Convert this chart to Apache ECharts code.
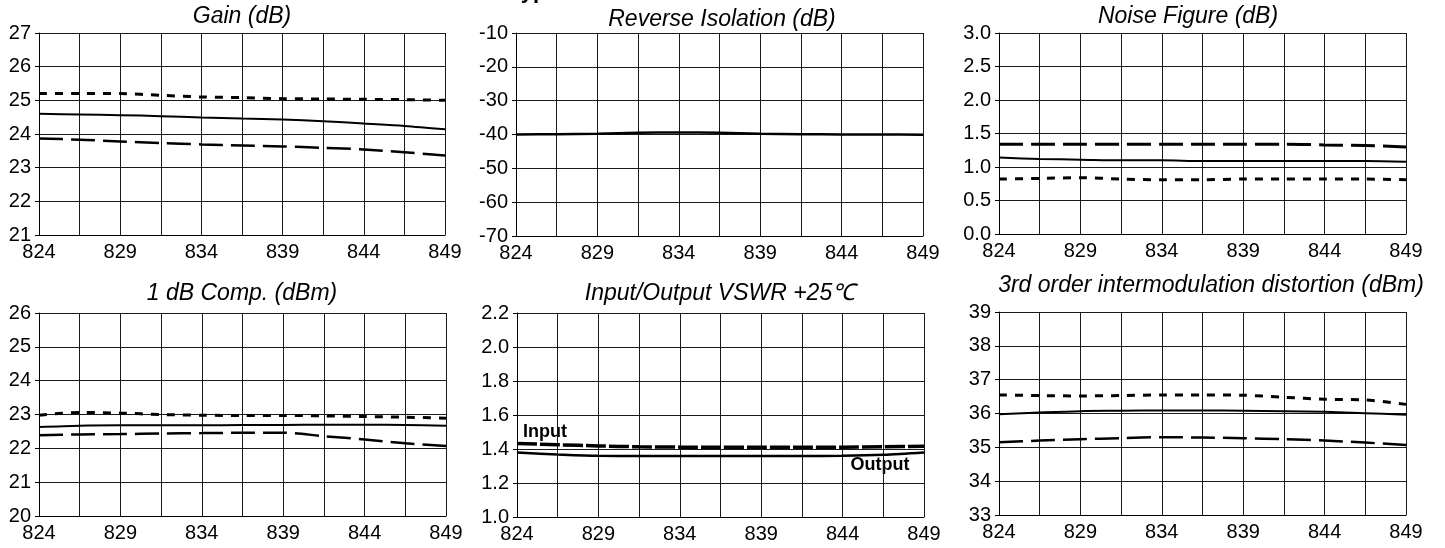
<!DOCTYPE html>
<html>
<head>
<meta charset="utf-8">
<script src="https://cdn.jsdelivr.net/npm/echarts@6/dist/echarts.min.js"></script>
<style>
html,body{margin:0;padding:0;background:#fff;}
#chart{width:1445px;height:548px;}
</style>
</head>
<body>
<div id="chart"></div>
<script>
// ---------- DATA ----------
const freqs = ['824','826.5','829','831.5','834','836.5','839','841.5','844','846.5','849'];

// Gain (dB)
const gainCold = [25.2, 25.2, 25.2, 25.15, 25.1, 25.08, 25.05, 25.04, 25.03, 25.02, 25.0];
const gainRoom = [24.6, 24.58, 24.56, 24.53, 24.49, 24.46, 24.43, 24.38, 24.31, 24.24, 24.14];
const gainHot  = [23.87, 23.83, 23.78, 23.73, 23.69, 23.66, 23.63, 23.59, 23.54, 23.46, 23.36];

// Reverse Isolation (dB)
const isoRoom = [-40.0, -39.9, -39.8, -39.5, -39.4, -39.5, -39.8, -39.9, -40.0, -40.0, -40.1];

// Noise Figure (dB)
const nfCold = [0.82, 0.83, 0.84, 0.82, 0.81, 0.81, 0.82, 0.82, 0.82, 0.82, 0.81];
const nfRoom = [1.14, 1.12, 1.11, 1.10, 1.10, 1.09, 1.09, 1.09, 1.09, 1.09, 1.08];
const nfHot  = [1.34, 1.34, 1.34, 1.34, 1.34, 1.34, 1.34, 1.34, 1.33, 1.32, 1.30];

// 1 dB Comp. (dBm)
const p1Cold = [22.98, 23.06, 23.04, 23.0, 22.98, 22.97, 22.97, 22.96, 22.94, 22.92, 22.89];
const p1Room = [22.63, 22.67, 22.68, 22.68, 22.68, 22.69, 22.69, 22.70, 22.70, 22.69, 22.67];
const p1Hot  = [22.39, 22.41, 22.42, 22.44, 22.45, 22.46, 22.46, 22.36, 22.26, 22.15, 22.07];

// Input/Output VSWR +25°C
const vswrIn  = [1.433, 1.425, 1.418, 1.413, 1.411, 1.410, 1.410, 1.410, 1.411, 1.413, 1.416];
const vswrOut = [1.379, 1.368, 1.360, 1.359, 1.359, 1.359, 1.359, 1.359, 1.360, 1.366, 1.380];

// 3rd order intermodulation distortion (dBm)
const ip3Cold = [36.55, 36.53, 36.52, 36.53, 36.55, 36.55, 36.54, 36.48, 36.42, 36.40, 36.27];
const ip3Room = [35.98, 36.03, 36.07, 36.08, 36.09, 36.09, 36.08, 36.07, 36.05, 36.01, 35.96];
const ip3Hot  = [35.15, 35.20, 35.24, 35.27, 35.30, 35.29, 35.27, 35.24, 35.20, 35.14, 35.07];

// Panel titles and y-axis ranges [min, max, interval, decimals]
const titles = ['Gain (dB)', 'Reverse Isolation (dB)', 'Noise Figure (dB)',
                '1 dB Comp. (dBm)', 'Input/Output VSWR +25\u2103', '3rd order intermodulation distortion (dBm)'];
const yRanges = [[21, 27, 1, 0], [-70, -10, 10, 0], [0, 3, 0.5, 1],
                 [20, 26, 1, 0], [1.0, 2.2, 0.2, 1], [33, 39, 1, 0]];
const mainTitle = 'Typical Performance';

// ---------- LAYOUT ----------
const grids = [
  {left: 39,  top: 33,  width: 406, height: 202},
  {left: 516, top: 33,  width: 407, height: 203},
  {left: 999, top: 33,  width: 407, height: 201},
  {left: 39,  top: 313, width: 407, height: 203},
  {left: 517, top: 313, width: 407, height: 204},
  {left: 999, top: 312, width: 407, height: 203}
];
const titlePos = [[242, 17], [722, 20], [1188, 17], [242, 294], [720, 294], [1211, 286]];

const FONT = '"Liberation Sans", Arial, sans-serif';
const GRIDC = '#1a1a1a';

const xAxes = grids.map((g, i) => ({
  type: 'category', gridIndex: i, data: freqs, boundaryGap: false,
  axisLine: {show: true, lineStyle: {color: '#000', width: 1}},
  axisTick: {show: false, interval: 0},
  axisLabel: {interval: 1, color: '#000', fontFamily: FONT, fontSize: 20, margin: 7},
  splitLine: {show: true, interval: 0, lineStyle: {color: GRIDC, width: 1}}
}));
const yAxes = grids.map((g, i) => ({
  type: 'value', gridIndex: i, min: yRanges[i][0], max: yRanges[i][1], interval: yRanges[i][2],
  axisLine: {show: true, lineStyle: {color: '#000', width: 1}},
  axisTick: {show: true, length: 4, lineStyle: {color: '#000'}},
  axisLabel: {color: '#000', fontFamily: FONT, fontSize: 20, margin: 8,
    formatter: v => v.toFixed(yRanges[i][3])},
  splitLine: {show: true, lineStyle: {color: GRIDC, width: 1}}
}));

const coldStyle = {color: '#000', width: 3, type: [8, 8]};
const roomStyle = {color: '#000', width: 2, type: 'solid'};
const hotStyle  = {color: '#000', width: 2.5, type: [24, 8]};

function mk(idx, data, style, name) {
  return {type: 'line', name: name, xAxisIndex: idx, yAxisIndex: idx, data: data,
    showSymbol: false, smooth: 0.3, lineStyle: style, silent: true, animation: false};
}

const series = [
  mk(0, gainCold, coldStyle, '-40C'), mk(0, gainRoom, roomStyle, '+25C'), mk(0, gainHot, hotStyle, '+85C'),
  mk(1, isoRoom, {color: '#000', width: 2.5}, '+25C'),
  mk(2, nfCold, coldStyle, '-40C'), mk(2, nfRoom, roomStyle, '+25C'), mk(2, nfHot, {color: '#000', width: 3, type: [24, 8]}, '+85C'),
  mk(3, p1Cold, coldStyle, '-40C'), mk(3, p1Room, roomStyle, '+25C'), mk(3, p1Hot, hotStyle, '+85C'),
  mk(4, vswrIn, {color: '#000', width: 3.5, type: [20, 3]}, 'Input'), mk(4, vswrOut, {color: '#000', width: 2.5}, 'Output'),
  mk(5, ip3Cold, coldStyle, '-40C'), mk(5, ip3Room, roomStyle, '+25C'), mk(5, ip3Hot, hotStyle, '+85C')
];

const graphic = titles.map((t, i) => ({
  type: 'text', x: titlePos[i][0], y: titlePos[i][1], silent: true,
  style: {text: t, fill: '#000', font: 'italic 23px ' + FONT, align: 'center', verticalAlign: 'middle'}
}));
graphic.push({type: 'text', x: 880, y: 465, silent: true,
  style: {text: 'Output', fill: '#000', font: 'bold 18px ' + FONT, align: 'center', verticalAlign: 'middle'}});
graphic.push({type: 'text', x: 545, y: 432, silent: true,
  style: {text: 'Input', fill: '#000', font: 'bold 18px ' + FONT, align: 'center', verticalAlign: 'middle'}});
graphic.push({type: 'text', x: 509, y: -19, silent: true,
  style: {text: mainTitle, fill: '#000', font: 'bold 22px ' + FONT, align: 'left', verticalAlign: 'top'}});

const chart = echarts.init(document.getElementById('chart'), null, {renderer: 'canvas'});
chart.setOption({
  backgroundColor: '#fff',
  animation: false,
  grid: grids,
  xAxis: xAxes,
  yAxis: yAxes,
  series: series,
  graphic: graphic
});
</script>
</body>
</html>
